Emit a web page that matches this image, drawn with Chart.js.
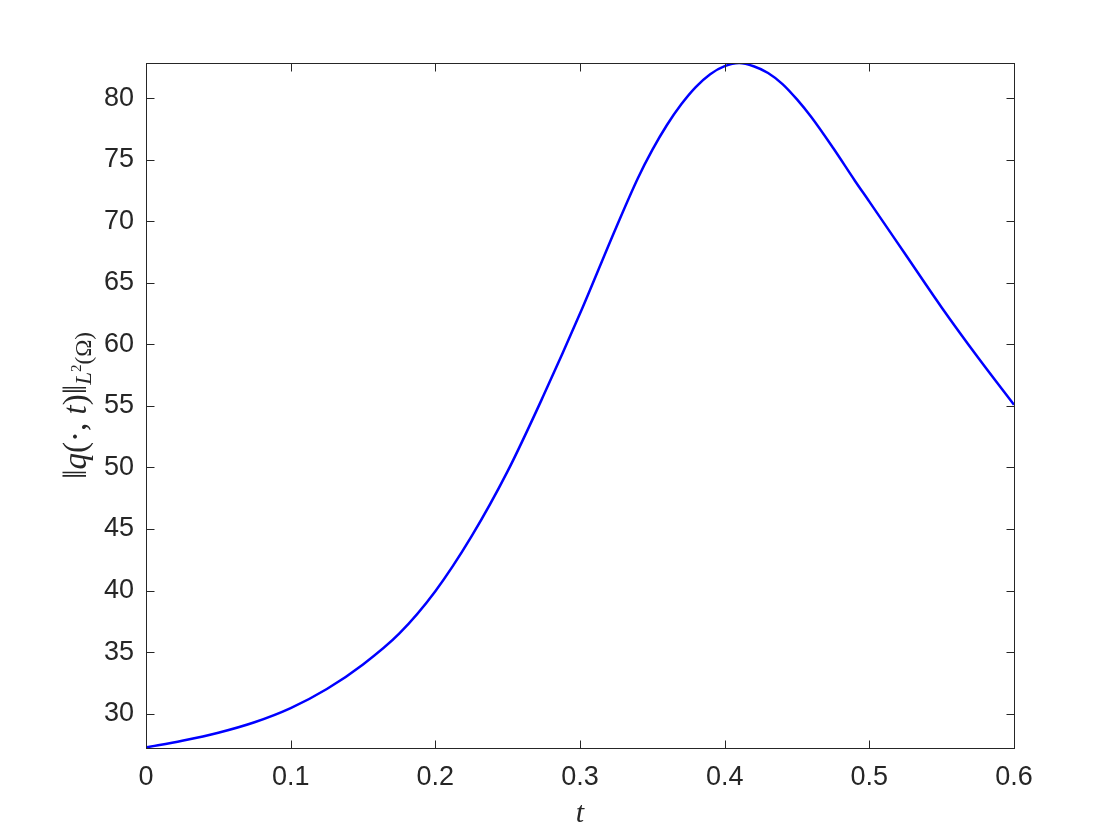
<!DOCTYPE html>
<html>
<head>
<meta charset="utf-8">
<title>L2 norm of q over time</title>
<script src="https://cdn.jsdelivr.net/npm/chart.js@4/dist/chart.umd.min.js"></script>
<style>
  html, body { margin: 0; padding: 0; background: #ffffff; }
  #wrap { width: 1120px; height: 840px; position: relative; }
</style>
</head>
<body>
<div id="wrap"><canvas id="normChart"></canvas></div>
<script>
// values
const tValues = [0, 0.025, 0.05, 0.075, 0.1, 0.125, 0.15, 0.175, 0.2, 0.225, 0.25, 0.275,
  0.3, 0.325, 0.34, 0.35, 0.36, 0.37, 0.38, 0.39, 0.4, 0.41, 0.42, 0.43, 0.44, 0.45, 0.46,
  0.475, 0.49, 0.5, 0.525, 0.55, 0.575, 0.6];
const normValues = [27.26, 27.8, 28.45, 29.3, 30.45, 32.0, 34.0, 36.5, 39.95, 44.4, 49.7, 55.9,
  62.5, 69.5, 73.5, 75.8, 77.8, 79.5, 80.9, 81.95, 82.6, 82.85, 82.6, 82.05, 81.15, 79.9, 78.45,
  75.95, 73.3, 71.6, 67.3, 63.0, 58.95, 55.09];
const xTicks = [0, 0.1, 0.2, 0.3, 0.4, 0.5, 0.6];
const yTicks = [30, 35, 40, 45, 50, 55, 60, 65, 70, 75, 80];

const axisColor = '#262626';
const serif = "'Liberation Serif', 'DejaVu Serif', serif";

// matlab-ish box with inward ticks + latex-like axis labels
const boxPlugin = {
  id: 'box',
  afterDraw(chart) {
    const { ctx, chartArea: a, scales } = chart;
    const L = Math.round(a.left) + 0.5, R = Math.round(a.right) + 0.5;
    const T = Math.round(a.top) + 0.5, B = Math.round(a.bottom) + 0.5;
    const tick = 8;
    ctx.save();
    ctx.strokeStyle = axisColor;
    ctx.lineWidth = 1;
    ctx.strokeRect(L, T, R - L, B - T);
    ctx.beginPath();
    scales.y.ticks.forEach(t => {
      const y = Math.round(scales.y.getPixelForValue(t.value)) + 0.5;
      ctx.moveTo(L, y); ctx.lineTo(L + tick, y);
      ctx.moveTo(R, y); ctx.lineTo(R - tick, y);
    });
    scales.x.ticks.forEach(t => {
      const x = Math.round(scales.x.getPixelForValue(t.value)) + 0.5;
      ctx.moveTo(x, B); ctx.lineTo(x, B - tick);
      ctx.moveTo(x, T); ctx.lineTo(x, T + tick);
    });
    ctx.stroke();

    // x label
    ctx.fillStyle = axisColor;
    ctx.font = 'italic 30px ' + serif;
    ctx.textAlign = 'center';
    ctx.textBaseline = 'alphabetic';
    ctx.fillText('t', (a.left + a.right) / 2, 822);

    // y label, drawn piece by piece so the subscript can be smaller
    const parts = [
      { s: '\u2016', f: '34px ' + serif, dy: 0 },
      { s: 'q', f: 'italic 33px ' + serif, dy: 0 },
      { s: '(\u00b7, ', f: '33px ' + serif, dy: 0 },
      { s: 't', f: 'italic 33px ' + serif, dy: 0 },
      { s: ')', f: '33px ' + serif, dy: 0 },
      { s: '\u2016', f: '34px ' + serif, dy: 0 },
      { s: 'L', f: 'italic 23px ' + serif, dy: 5 },
      { s: '2', f: '15px ' + serif, dy: -5 },
      { s: '(\u03a9)', f: '23px ' + serif, dy: 5 }
    ];
    let total = 0;
    parts.forEach(p => { ctx.font = p.f; p.w = ctx.measureText(p.s).width; total += p.w; });
    ctx.translate(86, (a.top + a.bottom) / 2);
    ctx.rotate(-Math.PI / 2);
    ctx.textAlign = 'left';
    let x = -total / 2;
    parts.forEach(p => {
      ctx.font = p.f;
      ctx.fillText(p.s, x, p.dy);
      x += p.w;
    });
    ctx.restore();
  }
};

new Chart(document.getElementById('normChart'), {
  type: 'line',
  data: {
    datasets: [{
      data: tValues.map((t, i) => ({ x: t, y: normValues[i] })),
      borderColor: '#0000ff',
      borderWidth: 2.5,
      pointRadius: 0,
      fill: false,
      cubicInterpolationMode: 'monotone'
    }]
  },
  options: {
    responsive: true,
    maintainAspectRatio: false,
    animation: false,
    layout: { padding: { top: 63, right: 106, left: 0, bottom: 0 } },
    plugins: {
      legend: { display: false },
      tooltip: { enabled: false }
    },
    scales: {
      x: {
        type: 'linear',
        min: 0,
        max: 0.6,
        afterBuildTicks: s => { s.ticks = xTicks.map(v => ({ value: v })); },
        afterFit: s => { s.height = 92; },
        grid: { display: false, drawTicks: false },
        border: { display: false },
        ticks: {
          color: axisColor,
          padding: 13,
          maxRotation: 0,
          font: { family: "'Liberation Sans', Arial, sans-serif", size: 27 },
          callback: v => String(v)
        }
      },
      y: {
        type: 'linear',
        min: 27.21,
        max: 82.86,
        afterBuildTicks: s => { s.ticks = yTicks.map(v => ({ value: v })); },
        afterFit: s => { s.width = 146; },
        grid: { display: false, drawTicks: false },
        border: { display: false },
        ticks: {
          color: axisColor,
          padding: 12,
          font: { family: "'Liberation Sans', Arial, sans-serif", size: 27 },
          callback: v => String(v)
        }
      }
    }
  },
  plugins: [boxPlugin]
});
</script>
</body>
</html>
